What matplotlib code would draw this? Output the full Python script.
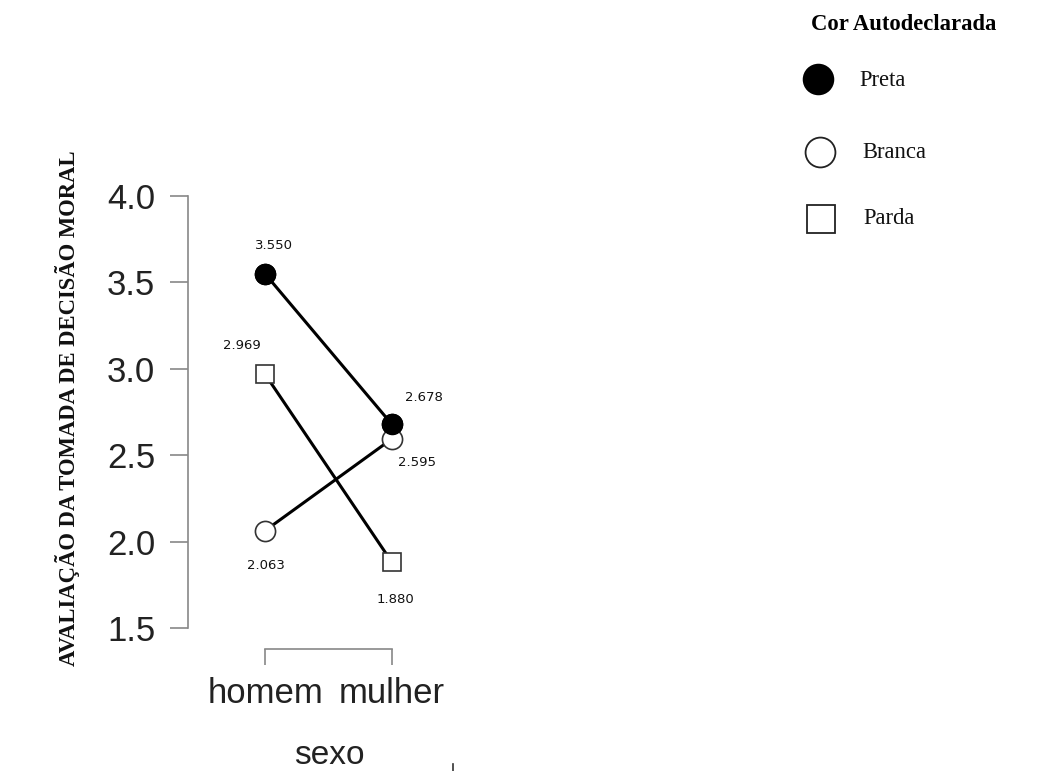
import matplotlib
matplotlib.use("Agg")
import matplotlib.pyplot as plt

# ---- data ----
sexo = ["homem", "mulher"]
grupos = ["Preta", "Branca", "Parda"]
preta = [3.550, 2.678]
branca = [2.063, 2.595]
parda = [2.969, 1.880]
yticks = [1.5, 2.0, 2.5, 3.0, 3.5, 4.0]

W, H = 1040, 771
DPI = 100
fig = plt.figure(figsize=(W / DPI, H / DPI), dpi=DPI)

# axes placement in pixels
left_px, right_px, top_px, bottom_px = 188, 455, 180, 649
ax = fig.add_axes([left_px / W, 1 - bottom_px / H,
                   (right_px - left_px) / W, (bottom_px - top_px) / H])

xpos = [1, 2]
px_per_x = 127.0
px_per_y = 172.8
x0 = 1 - (265 - left_px) / px_per_x
x1 = 1 + (right_px - 265) / px_per_x
y0 = 1.5 - (bottom_px - 628) / px_per_y
y1 = 4.0 + (196 - top_px) / px_per_y
ax.set_xlim(x0, x1)
ax.set_ylim(y0, y1)

lw = 2.2
cms, sms = 14.5, 13
ax.plot(xpos, preta, color="black", lw=lw, marker="o", ms=cms,
        mfc="black", mec="black", zorder=3)
ax.plot(xpos, branca, color="black", lw=lw, marker="o", ms=cms,
        mfc="white", mec="#333333", mew=1.2, zorder=3)
ax.plot(xpos, parda, color="black", lw=lw, marker="s", ms=sms,
        mfc="white", mec="#333333", mew=1.2, zorder=3)
# redraw preta markers on top
ax.plot(xpos, preta, color="black", lw=0, marker="o", ms=cms,
        mfc="black", mec="black", zorder=4)

# value labels
offsets = {
    ("preta", 0): (9, 28), ("preta", 1): (32, 27),
    ("branca", 0): (1, -35), ("branca", 1): (25, -24),
    ("parda", 0): (-23, 29), ("parda", 1): (3, -37),
}
for name, vals in (("preta", preta), ("branca", branca), ("parda", parda)):
    for i, v in enumerate(vals):
        dx, dy = offsets[(name, i)]
        ax.annotate(f"{v:.3f}", (xpos[i], v), xytext=(dx, dy),
                    textcoords="offset pixels", ha="center", va="center",
                    fontsize=9.5, family="DejaVu Sans", color="#111111")

# axes styling (R-like)
for s in ("top", "right"):
    ax.spines[s].set_visible(False)
ax.spines["left"].set_bounds(1.5, 4.0)
ax.spines["bottom"].set_bounds(1, 2)
for s in ("left", "bottom"):
    ax.spines[s].set_color("#888888")
    ax.spines[s].set_linewidth(1.2)
ax.set_yticks(yticks)
ax.set_yticklabels([f"{t:.1f}" for t in yticks])
ax.set_xticks(xpos)
ax.set_xticklabels(sexo)
ax.tick_params(axis="y", direction="out", length=13, width=1.2, color="#888888",
               pad=10.5, labelsize=25, labelcolor="#222222")
ax.tick_params(axis="x", direction="out", length=11.5, width=1.2, color="#888888",
               pad=9, labelsize=25, labelcolor="#222222")
for lab in ax.get_xticklabels() + ax.get_yticklabels():
    lab.set_family("Liberation Sans")
ax.patch.set_visible(False)

# overlay for titles & legend
lax = fig.add_axes([0, 0, 1, 1])
lax.set_xlim(0, W)
lax.set_ylim(H, 0)
lax.axis("off")

lax.text(329, 755, "sexo", ha="center", va="center", fontsize=24,
         family="Liberation Sans", color="#222222")
lax.text(68, 408, "AVALIAÇÃO DA TOMADA DE DECISÃO MORAL", rotation=90,
         ha="center", va="center", fontsize=16.3, fontweight="bold",
         family="Liberation Serif", color="#111111")

lax.text(904, 25, "Cor Autodeclarada", ha="center", va="center",
         fontsize=16.3, fontweight="bold", family="Liberation Serif")
leg_y = [79, 152, 219]
leg_x = [818, 819.5, 820.5]
leg_style = [dict(marker="o", ms=21.5, mfc="black", mec="black", mew=1.2),
             dict(marker="o", ms=21.5, mfc="white", mec="#222222", mew=1.3),
             dict(marker="s", ms=20, mfc="white", mec="#222222", mew=1.3)]
leg_tx = [859, 862, 863]
leg_ty = [81, 152, 218]
for g, x, y, st, tx, ty in zip(grupos, leg_x, leg_y, leg_style, leg_tx, leg_ty):
    lax.plot([x], [y], ls="none", **st)
    lax.text(tx, ty, g, ha="left", va="center", fontsize=16.3,
             family="Liberation Serif", color="#111111")

# stray tick mark at bottom
lax.plot([453, 453], [764, 771], color="#333333", lw=1.2)

fig.savefig("out.png", dpi=DPI)
